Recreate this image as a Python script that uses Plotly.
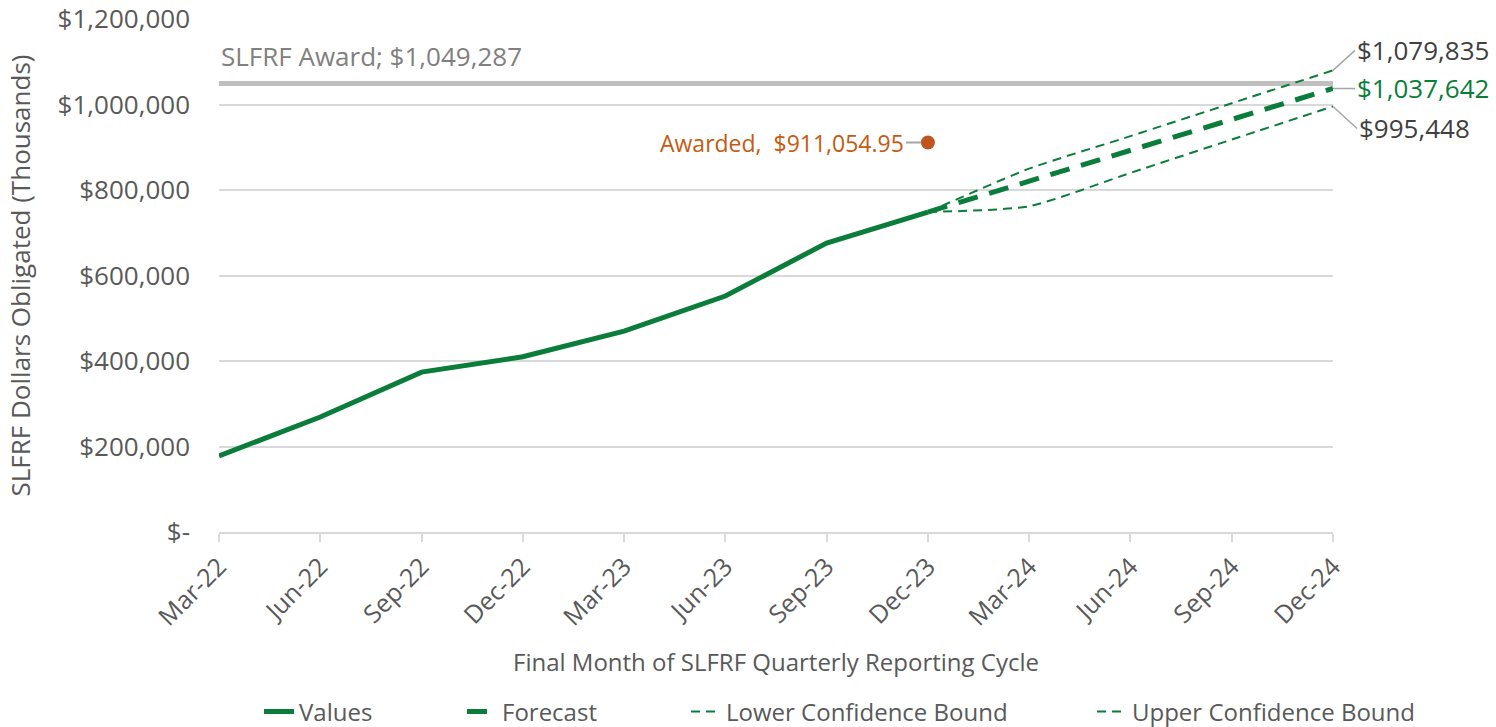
import plotly.graph_objects as go

categories = ["Mar-22", "Jun-22", "Sep-22", "Dec-22", "Mar-23", "Jun-23",
              "Sep-23", "Dec-23", "Mar-24", "Jun-24", "Sep-24", "Dec-24"]
values = [178000, 269000, 374000, 410000, 470000, 552000, 676000, 748500,
          None, None, None, None]
forecast = [None, None, None, None, None, None, None, 748500,
            820000, 893000, 965000, 1037642]
lower = [None, None, None, None, None, None, None, 748500,
         762000, 840000, 918000, 995448]
upper = [None, None, None, None, None, None, None, 748500,
         850000, 926000, 1003000, 1079835]
award_value = 1049287
awarded_cat = "Dec-23"
awarded_value = 911054.95
y_ticks = [0, 200000, 400000, 600000, 800000, 1000000, 1200000]
y_tick_text = ["$-", "$200,000", "$400,000", "$600,000", "$800,000",
               "$1,000,000", "$1,200,000"]

GREEN = "#0a7d3b"
GRAY_TXT = "#595959"
ORANGE = "#c0561f"
FONT = "Open Sans"

W, H = 1496, 727

fig = go.Figure()

fig.add_trace(go.Scatter(x=[categories[0], categories[-1]], y=[award_value, award_value],
                         mode="lines", line=dict(color="#bfbfbf", width=5),
                         showlegend=False, hoverinfo="skip"))

fig.add_trace(go.Scatter(x=categories, y=values, name="Values", mode="lines",
                         line=dict(color=GREEN, width=5), legend="legend"))
fig.add_trace(go.Scatter(x=categories, y=forecast, name="Forecast", mode="lines",
                         line=dict(color=GREEN, width=5, dash="20px,12px"), legend="legend2"))
fig.add_trace(go.Scatter(x=categories, y=lower, name="Lower Confidence Bound", mode="lines",
                         line=dict(color=GREEN, width=2, dash="9px,6px", shape="spline", smoothing=0.6),
                         legend="legend3"))
fig.add_trace(go.Scatter(x=categories, y=upper, name="Upper Confidence Bound", mode="lines",
                         line=dict(color=GREEN, width=2, dash="9px,6px", shape="spline", smoothing=0.6),
                         legend="legend4"))

fig.add_trace(go.Scatter(x=[awarded_cat], y=[awarded_value], mode="markers",
                         marker=dict(color=ORANGE, size=14), showlegend=False))

fig.add_annotation(x=0, y=award_value, xref="x", yref="y", text="SLFRF Award; $1,049,287",
                   showarrow=False, xanchor="left", yanchor="bottom", yshift=7,
                   font=dict(family=FONT, size=26, color="#808080"))
fig.add_annotation(x=awarded_cat, y=awarded_value, xref="x", yref="y",
                   text="Awarded,  $911,054.95", showarrow=True, arrowhead=0,
                   arrowcolor="#a6a6a6", arrowwidth=2, ax=-22, ay=0, standoff=7,
                   xanchor="right", font=dict(family=FONT, size=23, color="#c55a11"))
fig.add_annotation(x=categories[-1], y=upper[-1], xref="x", yref="y",
                   text="$1,079,835", showarrow=True, arrowhead=0,
                   arrowcolor="#a6a6a6", arrowwidth=1.5, ax=22, ay=-20,
                   xanchor="left", font=dict(family=FONT, size=26, color="#404040"))
fig.add_annotation(x=categories[-1], y=forecast[-1], xref="x", yref="y",
                   text="$1,037,642", showarrow=True, arrowhead=0,
                   arrowcolor="#a6a6a6", arrowwidth=1.5, ax=22, ay=0,
                   xanchor="left", font=dict(family=FONT, size=26, color=GREEN))
fig.add_annotation(x=categories[-1], y=lower[-1], xref="x", yref="y",
                   text="$995,448", showarrow=True, arrowhead=0,
                   arrowcolor="#a6a6a6", arrowwidth=1.5, ax=24, ay=22,
                   xanchor="left", font=dict(family=FONT, size=26, color="#404040"))

leg_common = dict(orientation="h", xref="container", yref="container",
                  xanchor="left", y=15 / H, yanchor="middle",
                  font=dict(family=FONT, size=24, color=GRAY_TXT),
                  bgcolor="rgba(0,0,0,0)")

fig.update_layout(
    width=W, height=H,
    margin=dict(l=219, r=163, t=19, b=195),
    plot_bgcolor="white", paper_bgcolor="white",
    font=dict(family=FONT, color=GRAY_TXT),
    xaxis=dict(type="category", categoryorder="array", categoryarray=categories,
               range=[0, len(categories) - 1], tickangle=-45, automargin=False,
               tickfont=dict(size=25, color=GRAY_TXT),
               showgrid=False, showline=True, linecolor="#d9d9d9", linewidth=2,
               ticks="outside", ticklen=8, tickcolor="#d9d9d9", tickwidth=2,
               title=dict(text="Final Month of SLFRF Quarterly Reporting Cycle",
                          font=dict(size=24, color=GRAY_TXT), standoff=23)),
    yaxis=dict(range=[0, 1200000], tickvals=y_ticks, ticktext=y_tick_text,
               tickfont=dict(size=26, color=GRAY_TXT), automargin=False,
               ticklabeloverflow="allow",
               showgrid=True, gridcolor="#d9d9d9", gridwidth=1.5,
               zeroline=False, ticks="", ticklabelstandoff=28,
               title=dict(text="SLFRF Dollars Obligated (Thousands)",
                          font=dict(size=26, color=GRAY_TXT), standoff=19)),
    legend=dict(leg_common, x=259 / W),
    legend2=dict(leg_common, x=462 / W),
    legend3=dict(leg_common, x=686 / W),
    legend4=dict(leg_common, x=1092 / W),
    showlegend=True,
)

fig.write_html("out.html", config={"displayModeBar": False},
               post_script="document.body.style.margin='0px';")
